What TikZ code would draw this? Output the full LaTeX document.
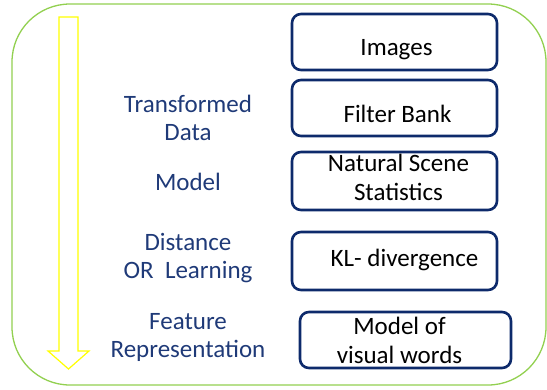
\documentclass[tikz,border=0pt]{standalone}
\usepackage{fontspec}
\setmainfont{Carlito}
\definecolor{navy}{HTML}{0D2A6B}
\definecolor{labelblue}{HTML}{1F3A78}
\definecolor{framegreen}{HTML}{92D050}
\definecolor{arrowyellow}{HTML}{FFFF00}

\begin{document}
\begin{tikzpicture}[x=1pt,y=-1pt]
    \tikzstyle{stagebox}=[draw=navy, line width=2.6pt, rounded corners=9pt, inner sep=0pt, align=center, font=\fontsize{25}{29}\selectfont]
    \tikzstyle{stagelabel}=[text=labelblue, inner sep=0pt, align=center, font=\fontsize{25}{28}\selectfont]
    \useasboundingbox (0,0) rectangle (547,389);
    % outer frame
    \draw [framegreen, line width=1.3pt, rounded corners=58pt] (12,4) rectangle (546,385);
    % downward block arrow
    \draw [arrowyellow, line width=1.2pt, fill=white] (59,17) -- (78,17) -- (78,351) -- (89,351) -- (68.5,369) -- (48,351) -- (59,351) -- cycle;
    % boxes
    \node [stagebox, minimum width=205pt, minimum height=56pt, text height=26pt, text depth=0pt] (images) at (394.5,42) {\hspace*{4pt}Images};
    \node [stagebox, minimum width=205pt, minimum height=56pt, text height=28pt, text depth=0pt] (filter) at (394.5,108) {\hspace*{6pt}Filter Bank};
    \node [stagebox, minimum width=205pt, minimum height=58pt, text height=40pt, text depth=2pt] (nss) at (394.5,181) {\hspace*{8pt}Natural Scene\\\hspace*{8pt}Statistics};
    \node [stagebox, minimum width=205pt, minimum height=58pt, text height=14pt, text depth=4pt] (kl) at (394.5,261) {\hspace*{20pt}KL- divergence};
    \node [stagebox, minimum width=211pt, minimum height=56pt, text height=50pt, text depth=4pt] (words) at (405.5,340) {\hspace*{-12pt}Model of\\\hspace*{-12pt}visual words};
    % labels
    \node [stagelabel] (transformed) at (188,118) {Transformed\\Data};
    \node [stagelabel] (model) at (188,182) {Model};
    \node [stagelabel] (distance) at (188,258) {Distance\\OR\ \ Learning};
    \node [stagelabel] (feature) at (188,337) {Feature\\Representation};
\end{tikzpicture}
\end{document}
